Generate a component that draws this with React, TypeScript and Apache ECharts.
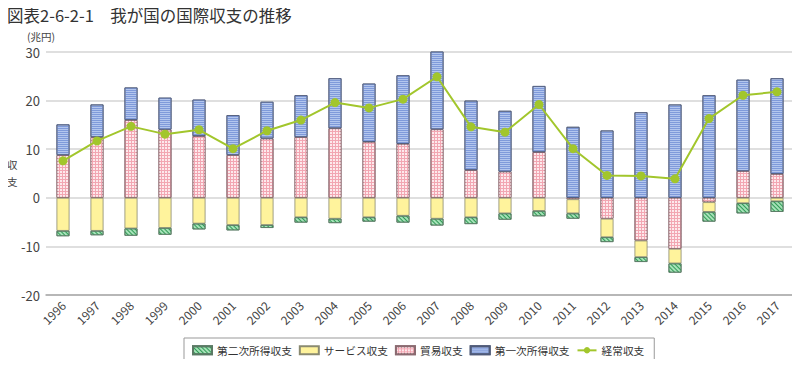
import React, { useEffect, useRef } from "react";
import * as echarts from "echarts";

const years = ["1996","1997","1998","1999","2000","2001","2002","2003","2004","2005","2006","2007","2008","2009","2010","2011","2012","2013","2014","2015","2016","2017"];
const trade = [8.8, 12.5, 16.0, 14.05, 12.7, 8.8, 12.2, 12.5, 14.3, 11.5, 11.1, 14.1, 5.7, 5.4, 9.4, -0.3, -4.3, -8.8, -10.5, -0.9, 5.5, 4.9];
const services = [-6.8, -6.8, -6.3, -6.2, -5.3, -5.6, -5.6, -4.0, -4.3, -4.0, -3.7, -4.3, -4.0, -3.2, -2.7, -2.9, -3.8, -3.4, -3.0, -2.0, -1.1, -0.7];
const secondary = [-1.1, -0.9, -1.5, -1.4, -1.2, -1.1, -0.6, -1.1, -0.9, -0.9, -1.4, -1.4, -1.4, -1.3, -1.1, -1.1, -1.0, -1.0, -1.9, -2.0, -2.1, -2.2];
const primary = [6.3, 6.7, 6.7, 6.55, 7.5, 8.2, 7.55, 8.6, 10.3, 12.0, 14.1, 16.5, 14.3, 12.5, 13.6, 14.6, 13.85, 17.6, 19.2, 21.1, 18.8, 19.7];
const current = [7.6, 11.7, 14.7, 13.1, 14.0, 10.1, 13.8, 16.0, 19.6, 18.5, 20.3, 24.9, 14.6, 13.5, 19.2, 10.1, 4.6, 4.5, 3.9, 16.3, 21.1, 21.8];

const yTicks = [-20, -10, 0, 10, 20, 30];
const legendOrder = ["第二次所得収支", "サービス収支", "貿易収支", "第一次所得収支", "経常収支"];

const FONT = "'Noto Sans CJK JP', 'Noto Sans', sans-serif";

export default function App() {
  const ref = useRef<HTMLDivElement>(null);
  useEffect(() => {
    if (!ref.current) return;
    const chart = echarts.init(ref.current, null, { renderer: "svg" });
    chart.setOption({
      animation: false,
      textStyle: { fontFamily: FONT },
      grid: { left: 46, right: 6, top: 52, bottom: 72, containLabel: false },
      legend: {
        data: legendOrder.map((n) => (n === "経常収支" ? { name: n } : { name: n, icon: "rect" })),
        left: 184,
        top: 338,
        itemWidth: 19,
        itemHeight: 8,
        itemGap: 7,
        padding: [7, 10, 7, 8],
        borderColor: "#999",
        borderWidth: 1,
        textStyle: { fontSize: 10.7, color: "#333", fontFamily: FONT },
      },
      xAxis: {
        type: "category",
        data: years,
        axisLine: { onZero: false, lineStyle: { color: "#aaa", width: 1.5 } },
        axisTick: { show: false },
        axisLabel: { rotate: 45, fontSize: 12, color: "#444", margin: 8, fontFamily: FONT },
      },
      yAxis: {
        type: "value",
        min: yTicks[0],
        max: yTicks[yTicks.length - 1],
        interval: 10,
        axisLine: { show: false },
        axisTick: { show: false },
        splitLine: { lineStyle: { color: "#d4d4d4", width: 1.5 } },
        axisLabel: { fontSize: 13, color: "#444", margin: 6, fontFamily: FONT, padding: [5, 0, 0, 0] },
      },
      graphic: [
        { type: "text", left: 7, top: 7, style: { text: "図表2-6-2-1　我が国の国際収支の推移", fontSize: 16.5, fill: "#333", fontFamily: FONT } },
        { type: "text", left: 27, top: 31, style: { text: "(兆円)", fontSize: 10.5, fill: "#444", fontFamily: FONT } },
        { type: "text", left: 7, top: 159, style: { text: "収", fontSize: 10.5, fill: "#444", fontFamily: FONT } },
        { type: "text", left: 7, top: 176, style: { text: "支", fontSize: 10.5, fill: "#444", fontFamily: FONT } },
      ],
      series: [
        {
          name: "貿易収支",
          type: "bar",
          stack: "bop",
          barWidth: 13,
          data: trade,
          itemStyle: {
            color: "#f2a6b2",
            borderColor: "#8a6a70",
            borderWidth: 0.8,
            decal: { symbol: "rect", symbolSize: 1, dashArrayX: [2, 1], dashArrayY: [2, 1], color: "#fde9ec", rotation: 0 },
          },
        },
        {
          name: "サービス収支",
          type: "bar",
          stack: "bop",
          barWidth: 13,
          data: services,
          itemStyle: { color: "#fff39c", borderColor: "#8a8a70", borderWidth: 0.8 },
        },
        {
          name: "第二次所得収支",
          type: "bar",
          stack: "bop",
          barWidth: 13,
          data: secondary,
          itemStyle: {
            color: "#a6e2b8",
            borderColor: "#5a7a64",
            borderWidth: 0.8,
            decal: { symbol: "rect", symbolSize: 1, dashArrayX: [1, 0], dashArrayY: [1, 2], color: "#2f9a55", rotation: Math.PI / 4 },
          },
        },
        {
          name: "第一次所得収支",
          type: "bar",
          stack: "bop",
          barWidth: 13,
          data: primary,
          itemStyle: {
            color: "#b3c6ee",
            borderColor: "#4f5a78",
            borderWidth: 0.8,
            decal: { symbol: "rect", symbolSize: 1, dashArrayX: [1, 0], dashArrayY: [1, 1], color: "#7f9ada", rotation: 0 },
          },
        },
        {
          name: "経常収支",
          type: "line",
          data: current,
          z: 10,
          symbol: "circle",
          symbolSize: 9,
          lineStyle: { color: "#a2c62c", width: 2 },
          itemStyle: { color: "#a2c62c" },
        },
      ],
    });
    return () => chart.dispose();
  }, []);
  return <div ref={ref} style={{ width: 800, height: 367, margin: -8 }} />;
}
